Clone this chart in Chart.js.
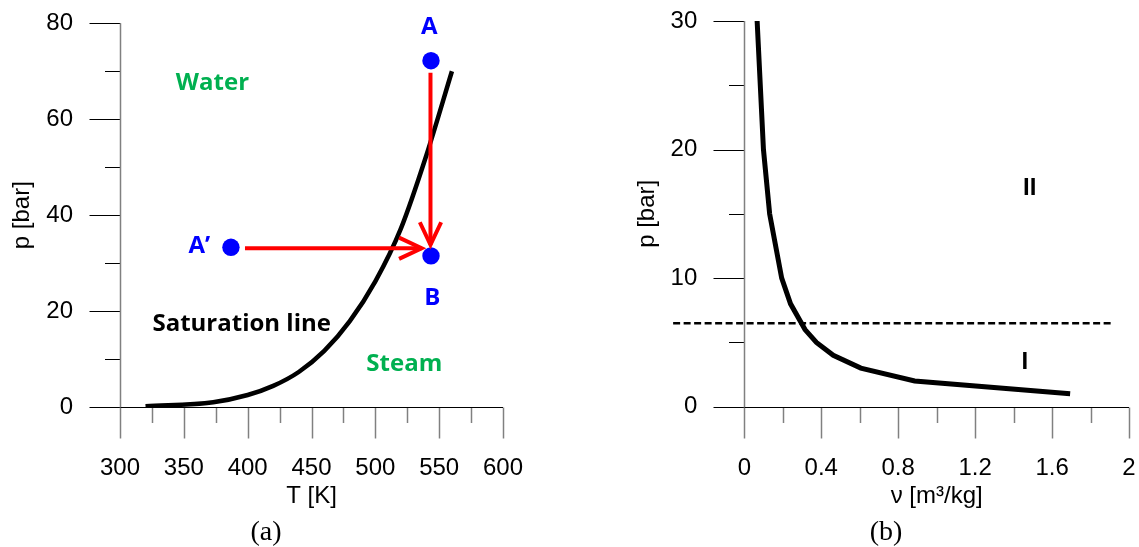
<!DOCTYPE html>
<html>
<head>
<meta charset="utf-8">
<script src="https://cdn.jsdelivr.net/npm/chart.js@4.4.0/dist/chart.umd.min.js"></script>
<style>
  body { margin: 0; background: #fff; width: 1139px; height: 547px; overflow: hidden; position: relative; }
  .box { position: absolute; top: 0; height: 547px; }
  #boxA { left: 0; width: 580px; }
  #boxB { left: 580px; width: 559px; }
</style>
</head>
<body>
<div class="box" id="boxA"><canvas id="chartA"></canvas></div>
<div class="box" id="boxB"><canvas id="chartB"></canvas></div>
<script>
// (a) p-T diagram: saturation line of water
let satT = [320, 373, 400, 420, 440, 460, 480, 500, 520, 540, 560];
let satP = [0.15, 1.0, 2.5, 4.4, 7.3, 11.7, 17.9, 26.2, 37.2, 52.5, 70];

// state points A, B, A'
let stateT = [543.6, 543.6, 386.9];
let stateP = [72.2, 31.5, 33.3];

// arrows A -> B and A' -> B
let arrowDownT = [543.2, 543.2];
let arrowDownP = [69.7, 33.8];
let arrowRightT = [397.9, 536.3];
let arrowRightP = [33.1, 33.1];

// (b) p-v diagram: saturated vapour line
let vapV = [0.0667, 0.0996, 0.1318, 0.1944, 0.2404, 0.3157, 0.3749, 0.4625, 0.6058, 0.8857, 1.694];
let vapP = [30, 20, 15, 10, 8, 6, 5, 4, 3, 2, 1];

// dashed boundary between region I and II
let limitV = [-0.37, 1.92];
let limitP = [6.49, 6.49];

const SANS = "'Liberation Sans', Arial, sans-serif";
const BOLD = "'Open Sans', sans-serif";
const SERIF = "'Liberation Serif', 'Times New Roman', serif";
const GREEN = '#00B050';
const BLUE = '#0000FF';
const RED = '#FF0000';

function toXY(xs, ys) {
    return xs.map((x, i) => ({ x: x, y: ys[i] }));
}

function stroke(ctx, x1, y1, x2, y2, color, width) {
    ctx.beginPath();
    ctx.moveTo(x1, y1);
    ctx.lineTo(x2, y2);
    ctx.strokeStyle = color;
    ctx.lineWidth = width;
    ctx.stroke();
}

// tick label padding should not push the plot area in
function noEdgePadding(s) {
    s.paddingTop = 0;
    s.paddingBottom = 0;
    s.paddingLeft = 0;
    s.paddingRight = 0;
}

// axes crossing at the lower left corner, ticks outside, minor ticks half length
const crossAxes = {
    id: 'crossAxes',
    beforeDatasetsDraw(chart, args, opts) {
        const ctx = chart.ctx;
        const xs = chart.scales.x, ys = chart.scales.y;
        const x0 = Math.round(xs.left) + 0.5;
        const y0 = Math.round(ys.bottom) + 0.5;
        ctx.save();
        ys.ticks.forEach(t => {
            const py = Math.round(ys.getPixelForValue(t.value)) + 0.5;
            const len = t.label === '' ? opts.minor : opts.major;
            stroke(ctx, x0 - len, py, x0, py, '#000', 1);
        });
        xs.ticks.forEach(t => {
            const px = Math.round(xs.getPixelForValue(t.value)) + 0.5;
            const len = t.label === '' ? opts.minor : opts.major;
            stroke(ctx, px, y0, px, y0 + len, '#808080', 1.5);
        });
        stroke(ctx, x0, ys.top, x0, y0, '#808080', 1.5);
        stroke(ctx, x0, y0, xs.right, y0, '#000', 1);
        ctx.restore();
    }
};

// text labels in data space, captions in canvas space, arrow heads
const notes = {
    id: 'notes',
    afterDatasetsDraw(chart, args, opts) {
        const ctx = chart.ctx;
        const xs = chart.scales.x, ys = chart.scales.y;
        ctx.save();
        chart.data.datasets.forEach((ds, i) => {
            if (!ds.arrowHead) return;
            const pts = chart.getDatasetMeta(i).data;
            const a = pts[pts.length - 2], b = pts[pts.length - 1];
            const ang = Math.atan2(b.y - a.y, b.x - a.x);
            const L = 25, spread = 0.44;
            ctx.beginPath();
            ctx.moveTo(b.x - L * Math.cos(ang - spread), b.y - L * Math.sin(ang - spread));
            ctx.lineTo(b.x, b.y);
            ctx.lineTo(b.x - L * Math.cos(ang + spread), b.y - L * Math.sin(ang + spread));
            ctx.strokeStyle = ds.borderColor;
            ctx.lineWidth = ds.borderWidth;
            ctx.lineJoin = 'miter';
            ctx.stroke();
        });
        ctx.textAlign = 'center';
        ctx.textBaseline = 'middle';
        (opts.items || []).forEach(n => {
            ctx.fillStyle = n.color;
            ctx.font = n.font;
            let px, py;
            if (n.px !== undefined) {
                px = n.px; py = n.py;
            } else {
                px = xs.getPixelForValue(n.x);
                py = ys.getPixelForValue(n.y);
            }
            ctx.fillText(n.text, px, py);
        });
        ctx.restore();
    }
};

function tickFont() {
    return { family: SANS, size: 24 };
}

// ---------- chart (a) ----------
new Chart(document.getElementById('chartA'), {
    type: 'scatter',
    data: {
        datasets: [
            {
                data: toXY(stateT, stateP),
                pointRadius: 8.7,
                pointBackgroundColor: BLUE,
                pointBorderWidth: 0
            },
            {
                data: toXY(arrowDownT, arrowDownP),
                showLine: true, pointRadius: 0,
                borderColor: RED, borderWidth: 4, arrowHead: true
            },
            {
                data: toXY(arrowRightT, arrowRightP),
                showLine: true, pointRadius: 0,
                borderColor: RED, borderWidth: 4, arrowHead: true
            },
            {
                data: toXY(satT, satP),
                showLine: true, pointRadius: 0,
                borderColor: '#000', borderWidth: 4.5,
                cubicInterpolationMode: 'monotone'
            }
        ]
    },
    options: {
        responsive: true,
        maintainAspectRatio: false,
        animation: false,
        layout: { padding: { left: 0, top: 23.3, right: 77, bottom: 0 } },
        plugins: {
            legend: { display: false },
            tooltip: { enabled: false },
            crossAxes: { major: 31, minor: 15.5 },
            notes: {
                items: [
                    { text: 'Water', x: 372.4, y: 67.6, color: GREEN, font: 'bold 24px ' + BOLD },
                    { text: 'Steam', x: 522.7, y: 8.9, color: GREEN, font: 'bold 24px ' + BOLD },
                    { text: 'Saturation line', x: 395.3, y: 17.2, color: '#000', font: 'bold 24px ' + BOLD },
                    { text: 'A', x: 542.3, y: 79.2, color: BLUE, font: 'bold 24px ' + BOLD },
                    { text: 'B', x: 544.6, y: 22.7, color: BLUE, font: 'bold 24px ' + BOLD },
                    { text: 'A’', x: 362.1, y: 33.6, color: BLUE, font: 'bold 24px ' + BOLD },
                    { text: '(a)', px: 266, py: 533, color: '#000', font: '28px ' + SERIF }
                ]
            }
        },
        scales: {
            x: {
                type: 'linear', min: 300, max: 600,
                grid: { display: false, drawTicks: false },
                border: { display: false },
                ticks: {
                    stepSize: 25, maxTicksLimit: 50, autoSkip: false, maxRotation: 0,
                    padding: 47, color: '#000', font: tickFont(),
                    callback: v => (v % 50 === 0 ? String(v) : '')
                },
                title: { display: true, text: 'T [K]', color: '#000', font: tickFont(), padding: { top: 0, bottom: 36 } },
                afterFit: s => { s.height = 140; noEdgePadding(s); }
            },
            y: {
                type: 'linear', min: 0, max: 80,
                grid: { display: false, drawTicks: false },
                border: { display: false },
                ticks: {
                    stepSize: 10, maxTicksLimit: 50, autoSkip: false,
                    padding: 47, color: '#000', font: tickFont(),
                    callback: v => (v % 20 === 0 ? String(v) : '')
                },
                title: { display: true, text: 'p [bar]', color: '#000', font: tickFont(), padding: { top: 8, bottom: 0 } },
                afterFit: s => { s.width = 120; noEdgePadding(s); }
            }
        }
    },
    plugins: [crossAxes, notes]
});

// ---------- chart (b) ----------
new Chart(document.getElementById('chartB'), {
    type: 'scatter',
    data: {
        datasets: [
            {
                data: toXY(vapV, vapP),
                showLine: true, pointRadius: 0,
                borderColor: '#000', borderWidth: 5
            },
            {
                data: toXY(limitV, limitP),
                showLine: true, pointRadius: 0,
                borderColor: '#000', borderWidth: 2.5,
                borderDash: [7, 3.5], clip: false
            }
        ]
    },
    options: {
        responsive: true,
        maintainAspectRatio: false,
        animation: false,
        layout: { padding: { left: 0, top: 21, right: 10, bottom: 0 } },
        plugins: {
            legend: { display: false },
            tooltip: { enabled: false },
            crossAxes: { major: 31, minor: 15.5 },
            notes: {
                items: [
                    { text: 'II', x: 1.484, y: 16.95, color: '#000', font: 'bold 24px ' + SANS },
                    { text: 'I', x: 1.459, y: 3.48, color: '#000', font: 'bold 24px ' + SANS },
                    { text: '(b)', px: 306, py: 533, color: '#000', font: '28px ' + SERIF }
                ]
            }
        },
        scales: {
            x: {
                type: 'linear', min: 0, max: 2,
                grid: { display: false, drawTicks: false },
                border: { display: false },
                ticks: {
                    stepSize: 0.2, maxTicksLimit: 50, autoSkip: false, maxRotation: 0,
                    padding: 47, color: '#000', font: tickFont(),
                    callback: v => (Math.round(v * 10) % 4 === 0 ? String(v) : '')
                },
                title: { display: true, text: 'ν [m³/kg]', color: '#000', font: tickFont(), padding: { top: 0, bottom: 36 } },
                afterFit: s => { s.height = 140.3; noEdgePadding(s); }
            },
            y: {
                type: 'linear', min: 0, max: 30,
                grid: { display: false, drawTicks: false },
                border: { display: false },
                ticks: {
                    stepSize: 5, maxTicksLimit: 50, autoSkip: false,
                    padding: 47, color: '#000', font: tickFont(),
                    callback: v => (v % 10 === 0 ? String(v) : '')
                },
                title: { display: true, text: 'p [bar]', color: '#000', font: tickFont(), padding: { top: 53, bottom: 0 } },
                afterFit: s => { s.width = 164.3; noEdgePadding(s); }
            }
        }
    },
    plugins: [crossAxes, notes]
});
</script>
</body>
</html>
